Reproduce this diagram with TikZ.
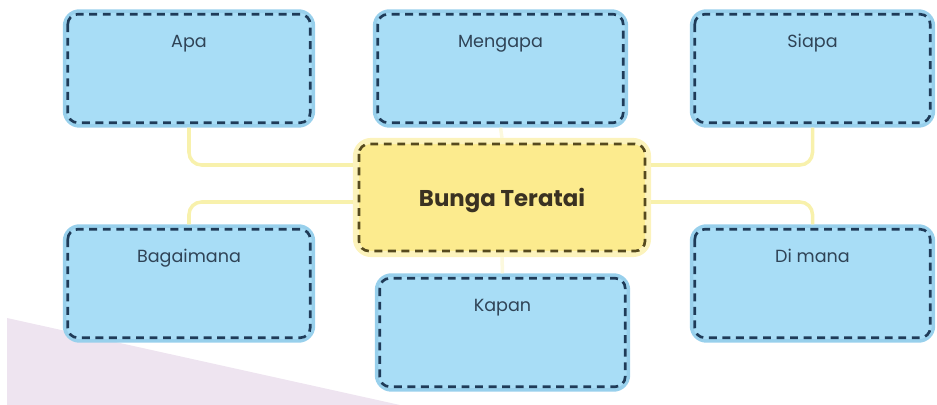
\documentclass[tikz,border=0pt]{standalone}
\usepackage{fontspec}
\setmainfont{Poppins}
\definecolor{qfill}{HTML}{A8DDF6}
\definecolor{qrim}{HTML}{98D0EC}
\definecolor{qline}{HTML}{1F3B58}
\definecolor{qtext}{HTML}{2F4356}
\definecolor{corefill}{HTML}{FCEB8E}
\definecolor{corerim}{HTML}{FCF3BC}
\definecolor{coreline}{HTML}{564A1E}
\definecolor{coretext}{HTML}{3A3222}
\definecolor{linkcol}{HTML}{F8F1AC}
\definecolor{lilac}{HTML}{EEE4F0}

\begin{document}
\begin{tikzpicture}[x=0.02cm,y=-0.02cm,
  qbox/.style={rectangle, rounded corners=0.3cm, fill=qfill, draw=qrim, line width=2pt,
    inner sep=0pt, text height=0.72cm, text depth=1.58cm, text=qtext,
    font=\fontsize{10}{12}\selectfont},
  corebox/.style={rectangle, rounded corners=0.3cm, fill=corefill, draw=corerim, line width=3.5pt,
    inner sep=0pt, minimum width=5.84cm, text height=1.32cm, text depth=0.94cm, text=coretext,
    font=\bfseries\fontsize{13}{15}\selectfont},
  qdash/.style={draw=qline, line width=1.5pt, dash pattern=on 4.5pt off 3.2pt, rounded corners=0.2cm},
  link/.style={draw=linkcol, line width=2pt, rounded corners=0.25cm}]

\useasboundingbox (0,0) rectangle (937,405);
\fill[lilac] (7,318) -- (400,405) -- (7,405) -- cycle;

% question boxes
\node[qbox, minimum width=4.98cm] (apa) at (189,68.5) {Apa};
\node[qbox, minimum width=5.04cm] (mengapa) at (500.5,68.5) {Mengapa};
\node[qbox, minimum width=4.84cm] (siapa) at (812.5,68.5) {Siapa};
\node[qbox, minimum width=4.98cm] (bagaimana) at (189,283.5) {Bagaimana};
\node[qbox, minimum width=5.04cm] (kapan) at (502.5,332.5) {Kapan};
\node[qbox, minimum width=4.84cm] (dimana) at (812.5,283.5) {Di mana};

% topic in the middle
\node[corebox] (teratai) at (502,197.5) {Bunga Teratai};

\draw[link] (apa.south) |- ([yshift=0.65cm]teratai.west);
\draw[link] ([yshift=-0.09cm]teratai.west) -| (bagaimana.north);
\draw[link] (siapa.south) |- ([yshift=0.65cm]teratai.east);
\draw[link] ([yshift=-0.09cm]teratai.east) -| (dimana.north);
\draw[link, draw=linkcol!40] (mengapa.south) -- (teratai.north);
\draw[link, draw=linkcol!40] (teratai.south) -- (kapan.north);

\foreach \n in {apa,mengapa,siapa,bagaimana,kapan,dimana}
  \draw[qdash] ([shift={(0.1cm,-0.1cm)}]\n.north west) rectangle ([shift={(-0.1cm,0.1cm)}]\n.south east);
\draw[qdash, draw=coreline] ([shift={(0.12cm,-0.12cm)}]teratai.north west) rectangle ([shift={(-0.12cm,0.12cm)}]teratai.south east);
\end{tikzpicture}
\end{document}
